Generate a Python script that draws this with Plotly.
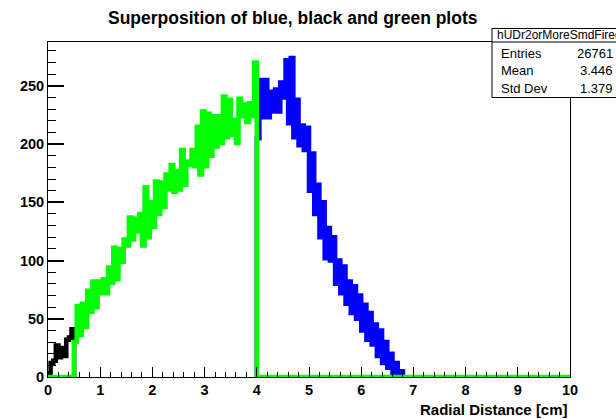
import plotly.graph_objects as go

# Histogram contents (counts per 0.05 cm bin)
bin_width = 0.05

black_start = 0.0
black_counts = [3, 12, 14, 27, 17, 25, 18, 32, 34, 41]

green_start = 0.5
green_counts = [
    30, 61, 36, 63, 43, 74, 56, 82, 60, 82,
    72, 84, 72, 94, 81, 111, 84, 110, 99, 118,
    113, 137, 118, 136, 125, 140, 113, 163, 120, 150,
    129, 168, 140, 167, 146, 174, 161, 182, 159, 177,
    161, 195, 165, 185, 182, 195, 181, 215, 174, 228,
    181, 226, 190, 224, 198, 224, 201, 241, 206, 238,
    208, 221, 201, 239, 224, 234, 219, 235, 224, 270,
]

blue_start = 4.0
blue_counts = [
    205, 255, 223, 255, 223, 245, 228, 247, 228, 253,
    240, 272, 218, 274, 206, 238, 199, 216, 195, 214,
    160, 192, 140, 165, 120, 150, 102, 128, 100, 120,
    80, 100, 72, 95, 63, 82, 55, 78, 50, 70,
    40, 62, 32, 55, 28, 45, 18, 40, 12, 30,
    8, 20, 3, 12, 0, 5,
]

x_range = [0, 10]
x_ticks = list(range(0, 11))
y_ticks = [0, 50, 100, 150, 200, 250]

title_text = "Superposition of blue, black and green plots"
x_title = "Radial Distance [cm]"
stats_name = "hUDr2orMoreSmdFired"
stats_rows = [("Entries", "26761"), ("Mean", "3.446"), ("Std Dev", "1.379")]


def hist_path(start, width, counts, lo=None, hi=None):
    """Staircase outline of a histogram (for line_shape='hv')."""
    xs = [start] + [start + i * width for i in range(len(counts) + 1)]
    ys = [0] + list(counts) + [0]
    if lo is not None:
        xs = [lo] + xs
        ys = [0] + ys
    if hi is not None:
        xs = xs + [hi]
        ys = ys + [0]
    return xs, ys


# plot-area geometry in pixels
W, H = 616, 419
L, R, T, B = 48, 570, 42, 377


def px(x):
    return (x - L) / (R - L)


def py(y):
    return (B - y) / (B - T)


fig = go.Figure()

bx, by = hist_path(blue_start, bin_width, blue_counts)
fig.add_trace(go.Scatter(x=bx, y=by, mode="lines", line_shape="hv",
                         line=dict(color="#0000ff", width=4.5), hoverinfo="skip"))

kx, ky = hist_path(black_start, bin_width, black_counts)
fig.add_trace(go.Scatter(x=kx, y=ky, mode="lines", line_shape="hv",
                         line=dict(color="#000000", width=4.5), hoverinfo="skip"))

gx, gy = hist_path(green_start, bin_width, green_counts, lo=x_range[0], hi=x_range[1])
fig.add_trace(go.Scatter(x=gx, y=gy, mode="lines", line_shape="hv",
                         line=dict(color="#00ff00", width=4.5), hoverinfo="skip"))

y_max = max(blue_counts + green_counts + black_counts) * 1.05

tick_font = dict(family="Liberation Sans", size=14.5, color="black", weight="bold")

fig.update_layout(
    width=W, height=H,
    margin=dict(l=L, r=W - R, t=T, b=H - B, pad=0),
    paper_bgcolor="white", plot_bgcolor="white",
    showlegend=False,
    xaxis=dict(
        range=x_range, tickvals=x_ticks, ticktext=[str(t) for t in x_ticks],
        ticks="inside", ticklen=10, tickwidth=1, tickcolor="black",
        minor=dict(ticks="inside", ticklen=5, dtick=0.2, tickcolor="black", tickwidth=1),
        showline=True, linecolor="black", linewidth=1, mirror=True,
        showgrid=False, zeroline=False, tickfont=tick_font,
    ),
    yaxis=dict(
        range=[0, y_max], tickvals=y_ticks, ticktext=[str(t) for t in y_ticks],
        ticks="inside", ticklen=16, tickwidth=1.5, tickcolor="black",
        minor=dict(ticks="inside", ticklen=8, dtick=10, tickcolor="black", tickwidth=1),
        showline=True, linecolor="black", linewidth=1, mirror=True,
        showgrid=False, zeroline=False, tickfont=tick_font,
    ),
)

annotations = [
    dict(text=title_text, x=px(293), y=py(18), xref="paper", yref="paper",
         xanchor="center", yanchor="middle", showarrow=False,
         font=dict(family="Liberation Sans", size=17.5, color="black", weight="bold")),
    dict(text=x_title, x=1.0, y=py(409), xref="paper", yref="paper",
         xanchor="right", yanchor="middle", showarrow=False,
         font=dict(family="Liberation Sans", size=15, color="black", weight="bold")),
    dict(text=stats_name, x=px(495), y=py(35.5), xref="paper", yref="paper",
         xanchor="left", yanchor="middle", showarrow=False,
         font=dict(family="Liberation Sans", size=12, color="black")),
]
row_y = [53, 70.5, 88]
for (label, value), ry in zip(stats_rows, row_y):
    annotations.append(dict(text=label, x=px(499), y=py(ry), xref="paper", yref="paper",
                            xanchor="left", yanchor="middle", showarrow=False,
                            font=dict(family="Liberation Sans", size=13, color="black")))
    annotations.append(dict(text=value, x=px(615), y=py(ry), xref="paper", yref="paper",
                            xanchor="right", yanchor="middle", showarrow=False,
                            font=dict(family="Liberation Sans", size=13, color="black")))
fig.update_layout(annotations=annotations)

# statistics box
fig.add_shape(type="rect", xref="paper", yref="paper",
              x0=px(492), x1=px(640), y0=py(97.5), y1=py(28.5),
              line=dict(color="black", width=1), fillcolor="white", layer="above")
fig.add_shape(type="line", xref="paper", yref="paper",
              x0=px(492), x1=px(640), y0=py(42), y1=py(42),
              line=dict(color="black", width=1), layer="above")

fig.write_html("out.html")
